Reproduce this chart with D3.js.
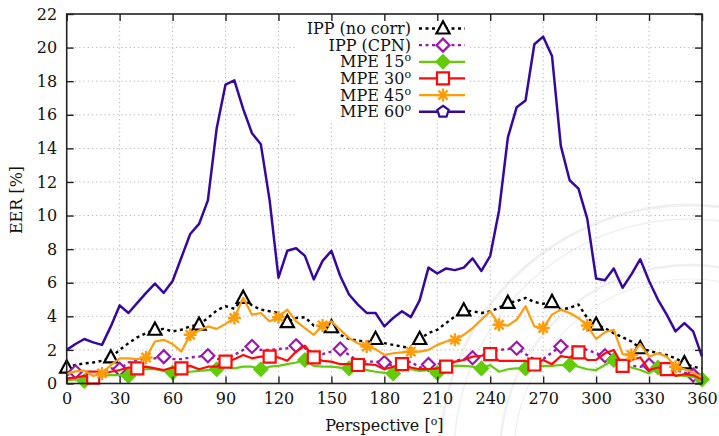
<!DOCTYPE html>
<html>
<head>
<meta charset="utf-8">
<script src="https://cdn.jsdelivr.net/npm/d3@7/dist/d3.min.js"></script>
<style>
  body { margin: 0; background: #fff; }
  svg { display: block; }
  text { font-family: "DejaVu Serif", "Liberation Serif", serif; fill: #111; }
</style>
</head>
<body>
<svg id="chart" width="719" height="436"></svg>
<script>
// Perspective angles (degrees), sampled every 5 degrees
const angles = d3.range(0, 361, 5);

// EER [%] per perspective for each method
const ippNoCorr = [0.95,1.1,1.2,1.25,1.35,1.55,2.0,2.4,2.75,3.0,3.2,3.25,3.1,3.2,3.4,3.5,3.9,4.35,4.6,4.45,
  5.1,4.65,4.4,4.3,4.2,3.65,3.9,3.95,3.45,3.4,3.35,2.9,2.65,2.55,2.5,2.65,2.4,2.3,2.2,2.1,
  2.65,3.0,3.2,3.6,4.0,4.35,4.3,4.2,4.3,4.5,4.8,4.9,5.1,4.85,4.75,4.85,4.4,4.5,4.7,3.9,
  3.5,3.3,3.0,2.75,2.5,2.1,1.95,1.8,1.7,1.5,1.2,1.0,0.9];
const ippCpn = [0.5,0.7,0.65,0.6,0.7,0.9,0.85,1.25,1.4,1.45,1.5,1.6,1.45,1.45,1.55,1.6,1.65,1.45,1.5,1.7,
  2.0,2.2,2.0,2.0,2.05,2.1,2.25,2.1,1.8,1.75,1.9,2.05,1.7,1.35,1.3,1.3,1.25,1.05,1.2,1.3,
  0.95,1.13,1.15,1.25,1.35,1.45,1.53,1.67,1.9,2.0,2.05,2.1,1.75,1.45,1.45,1.85,2.2,2.2,2.15,2.0,
  1.8,1.65,1.33,1.13,1.05,1.0,1.1,0.95,0.85,0.8,0.65,0.5,0.3];
const mpe15 = [0.2,0.25,0.15,0.3,0.45,0.5,0.5,0.45,0.8,0.85,0.85,0.75,0.65,0.65,0.7,0.75,0.8,0.85,1.0,0.9,
  1.0,1.0,0.85,1.0,1.05,1.15,1.25,1.4,1.05,1.0,1.0,0.95,0.9,0.85,0.8,0.7,0.63,0.6,0.9,0.85,
  0.75,0.8,0.63,0.93,1.05,1.05,1.0,0.9,1.1,0.7,0.85,0.9,0.9,1.05,1.05,1.05,1.1,1.1,1.0,0.85,
  0.8,1.1,1.4,1.05,0.95,0.8,0.6,0.95,0.7,0.5,0.45,0.4,0.24];
const mpe30 = [0.3,0.35,0.45,0.35,0.55,0.7,0.8,0.95,0.9,1.0,0.9,0.8,0.95,0.9,1.05,0.85,1.0,1.0,1.3,1.45,
  1.7,1.5,1.6,1.6,1.55,1.35,1.9,2.25,1.55,1.35,1.3,1.15,1.15,1.1,1.15,1.1,0.85,1.0,1.15,0.95,
  0.85,0.85,0.9,1.0,1.3,1.4,1.6,1.65,1.75,1.35,1.35,1.35,1.35,1.13,1.4,1.15,1.63,1.55,1.85,1.4,
  1.4,1.8,2.0,1.05,1.4,1.55,0.8,0.95,0.85,0.45,0.55,0.5,0.25];
const mpe45 = [0.57,0.72,0.77,0.45,0.6,1.1,1.5,1.5,1.45,1.55,2.5,2.6,2.35,1.9,2.9,3.15,3.4,3.25,3.55,3.9,
  5.1,4.1,4.2,3.7,3.95,4.4,3.7,3.3,2.9,3.45,3.7,3.2,2.7,2.4,2.2,2.05,1.7,1.8,1.85,1.9,
  1.9,2.0,2.3,2.5,2.6,2.9,3.3,3.8,4.3,3.5,3.45,3.8,4.6,3.4,3.3,4.1,4.4,4.2,3.9,3.45,
  2.65,3.05,3.2,1.75,1.7,2.35,1.6,1.8,1.6,1.0,0.85,0.65,0.35];
const mpe60 = [2.0,2.35,2.65,2.45,2.3,3.4,4.65,4.2,4.8,5.4,5.95,5.4,6.1,7.5,8.9,9.5,10.9,15.2,17.8,18.05,
  16.35,14.9,14.25,10.9,6.3,7.9,8.05,7.6,6.2,7.3,7.9,6.4,5.3,4.7,4.2,4.2,3.4,3.9,4.3,3.95,
  4.95,6.9,6.55,6.85,6.75,6.9,7.45,6.7,7.6,10.3,14.65,16.45,16.85,20.2,20.65,19.5,14.15,12.1,11.6,9.8,
  6.25,6.15,6.85,5.7,6.5,7.4,6.1,5.0,4.1,3.1,3.6,3.1,1.6];

const seriesNames = ["IPP (no corr)", "IPP (CPN)", "MPE 15", "MPE 30", "MPE 45", "MPE 60"];
const seriesSup = ["", "", "o", "o", "o", "o"];
const xTicks = d3.range(0, 361, 30);
const yTicks = d3.range(0, 23, 2);

const series = [
  { values: ippNoCorr, color: "#000000", dash: "3,3.5", width: 2.4, marker: "triangle", fill: "#fff", offset: 0 },
  { values: ippCpn,    color: "#9a1aa8", dash: "3,3.5", width: 2.4, marker: "diamond",  fill: "#fff", offset: 1 },
  { values: mpe15,     color: "#63cc0a", dash: null,    width: 2.2, marker: "diamond",  fill: "#63cc0a", offset: 2 },
  { values: mpe30,     color: "#ff0a0a", dash: null,    width: 2.2, marker: "square",   fill: "#fff", offset: 3 },
  { values: mpe45,     color: "#ff9c0a", dash: null,    width: 2.2, marker: "asterisk", fill: "none", offset: 4 },
  { values: mpe60,     color: "#36099e", dash: null,    width: 2.5, marker: "pentagon", fill: "#fff", offset: 5 }
];
series.forEach((s, i) => { s.name = seriesNames[i]; s.sup = seriesSup[i]; });

const FONT = "DejaVu Serif, Liberation Serif, serif";
const plot = { left: 66.7, right: 702, top: 14, bottom: 383.5 };
const x = d3.scaleLinear().domain([0, 360]).range([plot.left, plot.right]);
const y = d3.scaleLinear().domain([0, 22]).range([plot.bottom, plot.top]);

const svg = d3.select("#chart");

// faint university seal in the background
const seal = svg.append("g").attr("fill", "none").attr("stroke", "#f0f0f0");
[[250, 3], [236, 1.5], [190, 2.5], [176, 1.2]].forEach(([r, w]) => {
  seal.append("circle").attr("cx", 690).attr("cy", 455).attr("r", r).attr("stroke-width", w);
});

// dotted grid
const grid = svg.append("g").attr("stroke", "#b4b4b4").attr("stroke-width", 1).attr("stroke-dasharray", "1.2,3");
grid.selectAll("line.gx").data(xTicks.filter(d => d > 0 && d < 360)).join("line")
  .attr("x1", d => x(d)).attr("x2", d => x(d)).attr("y1", plot.top).attr("y2", plot.bottom);
grid.selectAll("line.gy").data(yTicks.filter(d => d > 0 && d < 22)).join("line")
  .attr("x1", plot.left).attr("x2", plot.right).attr("y1", d => y(d)).attr("y2", d => y(d));

// legend background
const legendBox = { x0: 296, x1: 470, y0: plot.top + 1, y1: 120 };
svg.append("rect").attr("x", legendBox.x0).attr("y", legendBox.y0)
  .attr("width", legendBox.x1 - legendBox.x0).attr("height", legendBox.y1 - legendBox.y0).attr("fill", "#fff");

// marker shapes
function markerPath(type) {
  switch (type) {
    case "triangle": return "M0,-7.2L6.6,5L-6.6,5Z";
    case "square": return "M-6,-6H6V6H-6Z";
    case "diamond": return "M0,-6.5L6.5,0L0,6.5L-6.5,0Z";
    case "pentagon": {
      const r = 6;
      const pts = d3.range(5).map(k => {
        const a = -Math.PI / 2 + k * 2 * Math.PI / 5;
        return [r * Math.cos(a), r * Math.sin(a)];
      });
      return "M" + pts.map(p => p.join(",")).join("L") + "Z";
    }
    case "asterisk": {
      const r = 6.5;
      return d3.range(4).map(k => {
        const a = k * Math.PI / 4;
        return `M${-r * Math.cos(a)},${-r * Math.sin(a)}L${r * Math.cos(a)},${r * Math.sin(a)}`;
      }).join("");
    }
  }
}
function drawMarker(g, s, px, py) {
  g.append("path").attr("d", markerPath(s.marker))
    .attr("transform", `translate(${px},${py})`)
    .attr("fill", s.fill).attr("stroke", s.color)
    .attr("stroke-width", s.marker === "asterisk" ? 2.4 : 2.2)
    .attr("stroke-linejoin", "miter");
}

// data lines and markers
const line = d3.line().x(d => x(d[0])).y(d => y(d[1]));
const plotArea = svg.append("g");
series.forEach(s => {
  const pts = angles.map((a, i) => [a, s.values[i]]);
  const g = plotArea.append("g");
  g.append("path").datum(pts).attr("d", line)
    .attr("fill", "none").attr("stroke", s.color).attr("stroke-width", s.width)
    .attr("stroke-linejoin", "round")
    .attr("stroke-dasharray", s.dash);
  pts.filter((p, i) => i % 5 === s.offset)
    .forEach(p => drawMarker(g, s, x(p[0]), y(p[1])));
});

// axes with inward ticks on all four sides
const tickLen = 7;
const axB = svg.append("g").attr("transform", `translate(0,${plot.bottom})`)
  .call(d3.axisBottom(x).tickValues(xTicks).tickSize(-tickLen).tickPadding(9).tickFormat(d3.format("d")));
const axL = svg.append("g").attr("transform", `translate(${plot.left},0)`)
  .call(d3.axisLeft(y).tickValues(yTicks).tickSize(-tickLen).tickPadding(9.5).tickFormat(d3.format("d")));
const axT = svg.append("g").attr("transform", `translate(0,${plot.top})`)
  .call(d3.axisTop(x).tickValues(xTicks).tickSize(-tickLen).tickFormat(""));
const axR = svg.append("g").attr("transform", `translate(${plot.right},0)`)
  .call(d3.axisRight(y).tickValues(yTicks).tickSize(-tickLen).tickFormat(""));
[axB, axL, axT, axR].forEach(a => {
  a.attr("font-family", FONT);
  a.select(".domain").remove();
  a.selectAll(".tick line").attr("stroke", "#222").attr("stroke-width", 1.4);
  a.selectAll("text").attr("font-size", 16).attr("fill", "#111");
});

// frame
svg.append("rect").attr("x", plot.left).attr("y", plot.top)
  .attr("width", plot.right - plot.left).attr("height", plot.bottom - plot.top)
  .attr("fill", "none").attr("stroke", "#222").attr("stroke-width", 1.6);

// axis titles
svg.append("text").attr("x", (plot.left + plot.right) / 2).attr("y", 431)
  .attr("text-anchor", "middle").attr("font-size", 16)
  .call(t => { t.append("tspan").text("Perspective ["); t.append("tspan").attr("baseline-shift", "super").attr("font-size", 11).text("o"); t.append("tspan").text("]"); });
svg.append("text").attr("transform", `translate(22,200) rotate(-90)`)
  .attr("text-anchor", "middle").attr("font-size", 16).text("EER [%]");

// legend
const legend = svg.append("g");
series.forEach((s, i) => {
  const ly = 28.5 + i * 16.65;
  const t = legend.append("text").attr("x", 411).attr("y", ly + 5.5).attr("text-anchor", "end").attr("font-size", 16);
  t.append("tspan").text(s.name);
  if (s.sup) t.append("tspan").attr("baseline-shift", "super").attr("font-size", 11).text(s.sup);
  legend.append("line").attr("x1", 419).attr("x2", 465).attr("y1", ly).attr("y2", ly)
    .attr("stroke", s.color).attr("stroke-width", s.width).attr("stroke-dasharray", s.dash);
  drawMarker(legend, s, 443, ly);
});
</script>
</body>
</html>
